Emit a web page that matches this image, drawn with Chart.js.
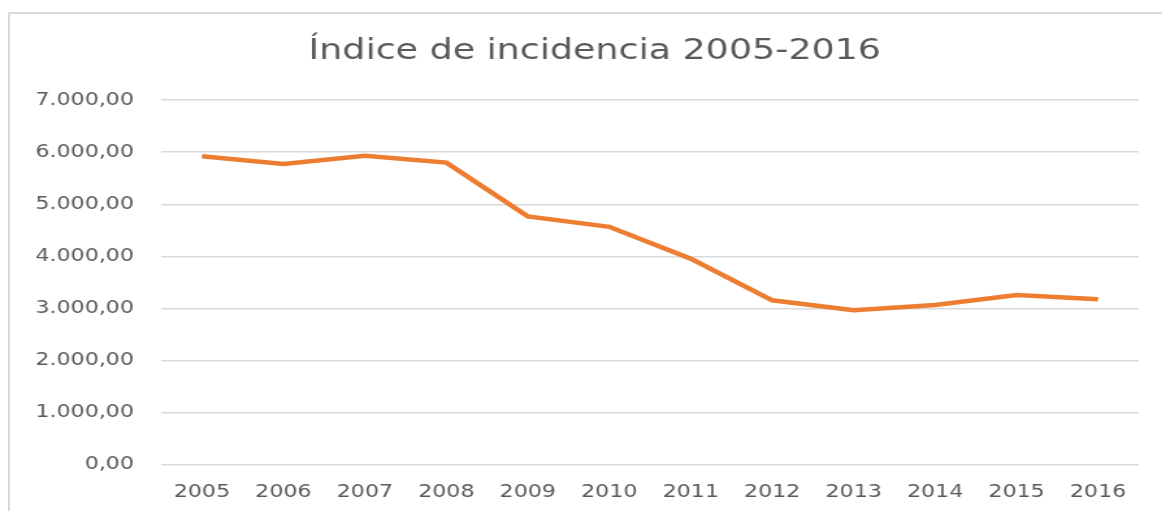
<!DOCTYPE html>
<html>
<head>
<meta charset="utf-8">
<script src="https://cdn.jsdelivr.net/npm/chart.js@4"></script>
<style>
  html, body { margin: 0; padding: 0; background: #fff; overflow: hidden; }
  #frame {
    position: absolute; left: 8px; top: 12px; width: 1170px; height: 520px;
    border-left: 2px solid #d9d9d9; border-top: 2px solid #d9d9d9;
  }
  #chart {
    position: absolute; left: 0; top: 0;
    transform: scaleX(1.3); transform-origin: 0 0;
  }
</style>
</head>
<body>
<div id="frame"></div>
<canvas id="chart" width="894" height="511"></canvas>
<script>
// Datos
const years = ['2005', '2006', '2007', '2008', '2009', '2010', '2011', '2012', '2013', '2014', '2015', '2016'];
const incidencia = [5923, 5776, 5930, 5802, 4770, 4569, 3959, 3160, 2968, 3070, 3262, 3179];
const titulo = 'Índice de incidencia 2005-2016';

// formato 7.000,00
function fmt(v) {
    const parts = Math.round(v).toString().replace(/\B(?=(\d{3})+(?!\d))/g, '.');
    return parts + ',00';
}

const gray = '#595959';

// el titulo queda un poco a la derecha en el original
const shiftTitle = {
    id: 'shiftTitle',
    afterLayout(chart) {
        if (chart.titleBlock) chart.titleBlock.left += 17;
    }
};

new Chart(document.getElementById('chart'), {
    type: 'line',
    data: {
        labels: years,
        datasets: [{
            label: titulo,
            data: incidencia,
            borderColor: '#ED7D31',
            borderWidth: 4.5,
            pointRadius: 0,
            tension: 0,
            fill: false
        }]
    },
    options: {
        responsive: false,
        animation: false,
        layout: { padding: { left: 22, right: 18, top: 20, bottom: 9 } },
        plugins: {
            legend: { display: false },
            tooltip: { enabled: false },
            title: {
                display: true,
                text: titulo,
                color: gray,
                font: { family: 'DejaVu Sans', size: 28, weight: 'normal', lineHeight: 1.2 },
                padding: { top: 15, bottom: 31.5 }
            }
        },
        scales: {
            x: {
                offset: true,
                afterFit: (scale) => { scale.height = 37; },
                grid: { display: false, drawTicks: false },
                border: { display: false },
                ticks: {
                    color: gray,
                    padding: 17,
                    maxRotation: 0,
                    font: { family: 'DejaVu Sans', size: 17, lineHeight: 1.2 }
                }
            },
            y: {
                min: 0,
                max: 7000,
                afterFit: (scale) => { scale.width = 102; },
                grid: { color: '#d9d9d9', lineWidth: 1.5, drawTicks: false },
                border: { display: false },
                ticks: {
                    stepSize: 1000,
                    color: gray,
                    padding: 21,
                    font: { family: 'DejaVu Sans', size: 17 },
                    callback: (v) => fmt(v)
                }
            }
        }
    },
    plugins: [shiftTitle]
});
</script>
</body>
</html>
